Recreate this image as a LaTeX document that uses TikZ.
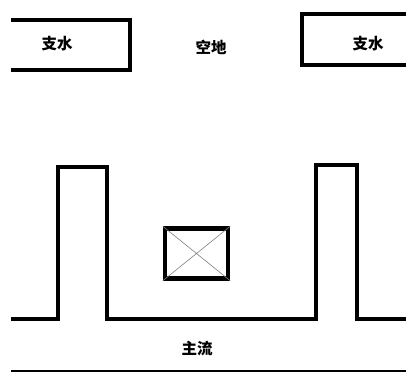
\documentclass[tikz,border=0pt]{standalone}
\usepackage{fontspec}
\newfontfamily\cjk{Noto Sans CJK SC}
\begin{document}
\begin{tikzpicture}[x=1pt,y=-1pt,
  wall/.style={line width=4pt,line join=miter},
  lbl/.style={font=\cjk\bfseries\fontsize{15.5}{17}\selectfont,inner sep=0pt}]
\useasboundingbox (0,0) rectangle (406,372);
\draw[wall] (11,20) -- (130,20) -- (130,70) -- (11,70);
\draw[wall] (406,14) -- (302,14) -- (302,65) -- (406,65);
\node[lbl] (z1) at (57,44) {支水};
\node[lbl] (kd) at (211,47) {空地};
\node[lbl] (z2) at (368,44) {支水};
\draw[wall] (11,319) -- (58,319) -- (58,167) -- (107,167) -- (107,319) -- (316,319) -- (316,165) -- (357,165) -- (357,319) -- (406,319);
\node[draw,line width=4.5pt,minimum width=63pt,minimum height=50pt,inner sep=0pt] (sq) at (196.5,253.5) {};
\draw[gray,line width=0.6pt] (sq.north west) -- (sq.south east) (sq.north east) -- (sq.south west);
\node[lbl] (zl) at (197,349) {主流};
\draw[line width=2pt] (11,371) -- (406,371);
\end{tikzpicture}
\end{document}
